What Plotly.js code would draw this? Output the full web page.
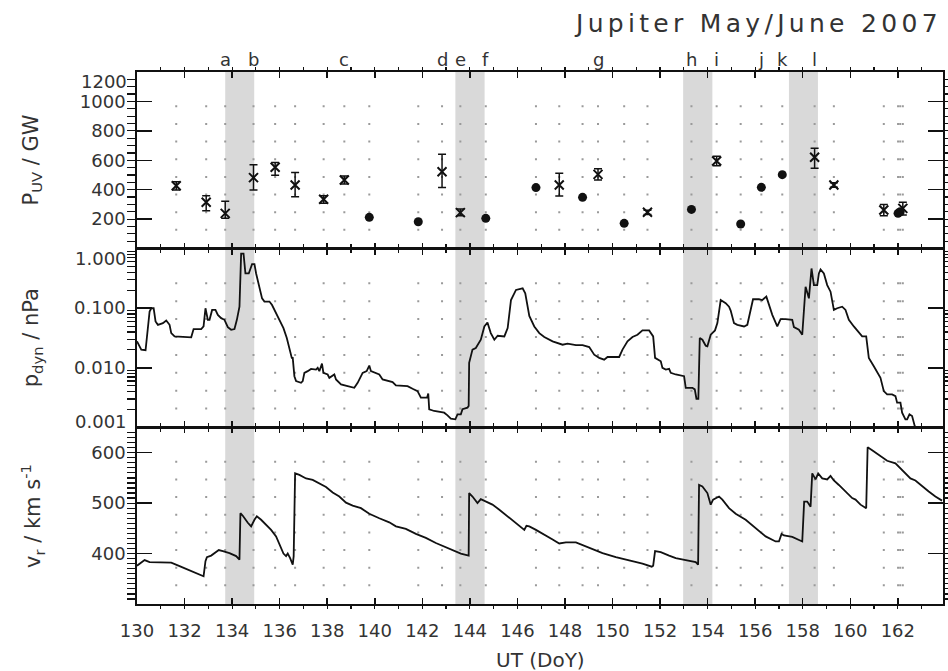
<!DOCTYPE html>
<html><head><meta charset="utf-8">
<script src="https://cdn.plot.ly/plotly-3.0.1.min.js"></script>
<style>
html,body{margin:0;padding:0;background:#fff;}
#chart{width:948px;height:671px;}
text[data-unformatted^="Jupiter"]{letter-spacing:4.3px;}
</style></head><body><div id="chart"></div>
<script>
// ---- P_UV (top panel) ----
const xTimes = [131.65,132.91,133.71,134.90,135.81,136.65,137.85,138.72,142.83,143.60,147.76,149.39,151.47,154.38,158.50,159.31,161.41,162.21];
const xPower = [427,314,239,482,552,432,335,466,522,244,432,504,246,595,620,432,262,273];
const xErrPlus = [27,45,82,88,32,84,24,27,118,25,79,39,15,33,61,15,38,41];
const xErrMinus = [29,57,34,84,54,80,28,27,108,21,75,38,15,32,75,15,39,45];
const dotTimes = [139.77,141.83,144.67,146.78,148.74,150.49,153.32,155.39,156.26,157.14,162.01,162.10];
const dotPower = [212,182,205,414,348,171,266,167,416,502,239,250];

// ---- event labels and shaded intervals ----
const eventLabels = ['a','b','c','d','e','f','g','h','i','j','k','l'];
const eventTimes = [133.71,134.90,138.72,142.83,143.60,144.67,149.39,153.32,154.38,156.26,157.14,158.50];
const shadeStart = [133.71,143.39,152.97,157.42];
const shadeEnd = [134.93,144.62,154.20,158.64];

// ---- dynamic pressure (middle panel) ----
const pdynDay = [130.00,130.18,130.36,130.53,130.60,130.70,130.78,130.88,131.09,131.23,
131.37,131.44,131.58,131.93,132.28,132.38,132.70,132.80,132.88,132.98,
133.05,133.16,133.30,133.40,133.54,133.68,133.82,133.96,134.10,134.20,
134.31,134.38,134.48,134.56,134.70,134.84,134.94,135.01,135.15,135.26,
135.36,135.57,135.68,135.85,135.99,136.16,136.30,136.41,136.51,136.55,
136.62,136.69,136.90,136.97,137.04,137.18,137.32,137.53,137.60,137.67,
137.78,137.84,138.02,138.09,138.30,138.37,138.58,138.86,139.14,139.28,
139.49,139.66,139.77,139.84,140.02,140.19,140.33,140.54,140.75,140.89,
141.17,141.38,141.59,141.80,141.94,142.20,142.25,142.29,142.50,142.78,
142.92,143.06,143.20,143.39,143.48,143.62,143.69,143.90,143.95,143.97,
144.11,144.25,144.46,144.61,144.74,144.88,145.03,145.17,145.45,145.59,
145.73,145.94,146.22,146.33,146.43,
146.50,146.71,146.92,147.13,147.48,147.90,148.11,148.46,148.74,149.02,
149.23,149.44,149.65,149.79,150.28,150.42,150.63,150.84,151.05,151.26,
151.54,151.71,151.79,152.03,152.10,152.24,152.38,152.45,152.66,153.01,
153.08,153.36,153.46,153.53,153.61,153.67,153.78,153.92,153.99,154.13,
154.31,154.41,154.55,154.76,154.90,154.97,155.11,155.25,155.53,155.67,
155.81,155.91,156.16,156.30,156.47,156.58,156.72,156.93,157.07,157.28,
157.56,157.63,157.84,157.98,158.05,158.12,158.26,158.37,158.47,158.61,
158.68,158.75,158.89,159.03,159.17,159.31,159.45,159.66,159.80,159.94,
160.15,160.36,160.50,160.67,160.78,160.99,161.13,161.27,161.41,161.55,
161.76,161.90,161.97,162.11,162.18,162.32,162.39,162.49,162.60,162.71,
162.81];
const pdynVal = [0.0278,0.0202,0.0197,0.0879,0.0998,0.0998,0.0598,0.0526,0.0561,0.0622,
0.0526,0.0382,0.0336,0.0328,0.0324,0.0446,0.0446,0.0494,0.0998,0.0638,
0.0638,0.0935,0.0935,0.0773,0.0680,0.0638,0.0481,0.0434,0.0446,0.0638,
0.106,0.824,0.824,0.382,0.382,0.547,0.547,0.382,0.229,0.146,
0.129,0.129,0.113,0.0824,0.0638,0.0463,0.0316,0.0202,0.0147,0.0147,
0.00724,0.00598,0.00561,0.00598,0.00824,0.00879,0.00960,0.00935,0.00998,0.00879,
0.0118,0.00824,0.00773,0.00680,0.00773,0.00638,0.00526,0.00494,0.00463,0.00561,
0.00824,0.00879,0.0109,0.00879,0.00824,0.00773,0.00638,0.00598,0.00576,0.00507,
0.00507,0.00494,0.00446,0.00407,0.00316,0.00316,0.00372,0.00202,0.00189,0.00182,
0.00177,0.00160,0.00141,0.00137,0.00166,0.00166,0.00202,0.00215,0.00229,0.0121,
0.0202,0.0215,0.0296,0.0494,0.0575,0.0382,0.0296,0.0345,0.0336,0.0463,
0.137,0.202,0.215,0.177,0.0998,
0.0743,0.0494,0.0382,0.0328,0.0278,0.0244,0.0254,0.0241,0.0241,0.0223,
0.0166,0.0147,0.0137,0.0152,0.0152,0.0202,0.0278,0.0328,0.0359,0.0424,
0.0424,0.0336,0.0147,0.0129,0.00998,0.00935,0.00960,0.00824,0.00773,0.00724,
0.00463,0.00463,0.00435,0.00303,0.00303,0.0316,0.0296,0.0235,0.0229,0.0359,
0.0424,0.0561,0.137,0.121,0.106,0.0912,0.0561,0.0526,0.0494,0.0526,
0.0935,0.141,0.141,0.137,0.156,0.113,0.0773,0.0494,0.0655,0.0655,
0.0638,0.0481,0.0434,0.0359,0.0935,0.229,0.146,0.463,0.244,0.244,
0.382,0.446,0.382,0.244,0.189,0.0935,0.0998,0.106,0.0935,0.0638,
0.0494,0.0393,0.0336,0.0336,0.0147,0.0106,0.00846,0.00680,0.00407,0.00359,
0.00359,0.00336,0.00261,0.00261,0.00177,0.00137,0.00137,0.00166,0.00156,0.00106,
0.00088];

// ---- radial solar wind velocity (bottom panel) ----
const vrDay = [130.00,130.32,130.53,130.95,131.44,131.79,132.21,132.49,132.80,132.88,
132.94,133.12,133.33,133.44,133.61,133.89,134.17,134.31,134.35,134.45,
134.66,134.80,134.94,135.04,135.22,135.43,135.64,135.85,135.99,136.16,
136.27,136.34,136.44,136.55,136.59,136.65,136.83,137.11,137.39,137.67,
137.95,138.23,138.51,138.79,139.07,139.42,139.77,140.19,140.61,140.89,
141.31,141.73,142.15,142.57,142.99,143.41,143.62,143.95,143.97,144.11,
144.32,144.46,144.67,144.95,145.24,145.51,145.80,146.15,146.29,146.38,
146.50,146.78,147.13,147.48,147.76,148.04,148.46,148.74,149.16,149.58,
150.14,150.70,151.26,151.65,151.71,151.79,152.03,152.38,152.66,153.08,
153.50,153.60,153.64,153.78,153.99,154.13,154.23,154.48,154.62,154.90,
155.18,155.60,156.02,156.44,156.86,157.00,157.11,157.21,157.56,157.84,
157.98,158.06,158.19,158.33,158.40,158.54,158.65,158.82,159.03,159.17,
159.31,159.52,159.80,160.08,160.22,160.43,160.67,160.73,160.92,161.20,
161.55,161.90,162.11,162.25,162.53,162.74,163.02,163.30,163.58,163.86];
const vrVal = [376,387,383,382,382,375,367,362,355,385,
393,396,403,407,405,401,395,388,480,475,
461,454,467,474,467,457,447,434,418,400,
395,400,391,378,395,559,556,549,546,539,
532,521,513,501,495,490,479,470,462,454,
449,439,431,421,413,405,400,396,520,513,
500,508,503,497,487,477,467,454,447,455,
454,447,438,428,420,422,422,417,409,401,
393,387,380,374,376,405,403,396,391,387,
383,378,536,533,520,497,507,513,507,490,
479,467,451,434,424,424,439,436,433,428,
424,503,503,493,559,547,559,549,547,554,
545,536,523,510,507,497,490,611,605,595,
584,579,569,563,549,545,533,523,513,505];

// ---- axis ticks ----
const dayRange = [130, 163.9];
const puvTicks = [200,400,600,800,1000];          // 1200 sits on the frame: drawn as an edge label
const pdynTicks = [0.01,0.1];                      // 0.001 / 1.000 sit on the frame: edge labels
const pdynTickText = ['0.010','0.100'];
const pdynMinor = [0.002,0.003,0.004,0.005,0.006,0.007,0.008,0.009,0.02,0.03,0.04,0.05,0.06,0.07,0.08,0.09,0.2,0.3,0.4,0.5,0.6,0.7,0.8,0.9];
const vrTicks = [400,500,600];
// edge tick labels: [text, axis, value, vertical shift in px]
const edgeLabels = [['1200','y3',1200,-9], ['1.000','y2',0,-10], ['0.001','y2',-3,6]];

const INK = '#111';
const TXT = '#333';
const FONT = 'DejaVu Sans, sans-serif';

const traces = [
  {x: vrDay, y: vrVal, xaxis: 'x', yaxis: 'y', mode: 'lines', line: {color: INK, width: 1.8}, hoverinfo: 'skip'},
  {x: pdynDay, y: pdynVal, xaxis: 'x2', yaxis: 'y2', mode: 'lines', line: {color: INK, width: 1.8}, hoverinfo: 'skip'},
  {x: xTimes, y: xPower, xaxis: 'x3', yaxis: 'y3', mode: 'markers',
   marker: {symbol: 'x-thin', size: 9, color: INK, line: {color: INK, width: 2}},
   error_y: {type: 'data', symmetric: false, array: xErrPlus, arrayminus: xErrMinus, color: INK, thickness: 1.5, width: 4}},
  {x: dotTimes, y: dotPower, xaxis: 'x3', yaxis: 'y3', mode: 'markers',
   marker: {symbol: 'circle', size: 9, color: INK}}
];

const xCommon = {range: dayRange, showline: true, linecolor: INK, linewidth: 1.8, mirror: 'ticks',
  ticks: 'inside', ticklen: 6, tickwidth: 1.5, tickcolor: INK, tick0: 130, dtick: 2,
  minor: {dtick: 1, tick0: 130, ticklen: 3, tickwidth: 1.2, tickcolor: INK},
  showgrid: false, zeroline: false, tickfont: {family: FONT, size: 18, color: TXT}, ticklabelstandoff: 10};
const yCommon = {showline: true, linecolor: INK, linewidth: 1.8, mirror: 'ticks', ticks: 'inside',
  ticklen: 15, tickwidth: 1.5, tickcolor: INK, showgrid: false, zeroline: false,
  tickfont: {family: FONT, size: 18, color: TXT}, ticklabelstandoff: 6};

const dBot = [0, 0.3318], dMid = [0.3318, 0.6682], dTop = [0.6682, 1];

const shapes = [];
for (let i = 0; i < shadeStart.length; i++) {
  shapes.push({type: 'rect', xref: 'x', yref: 'paper', x0: shadeStart[i], x1: shadeEnd[i], y0: 0, y1: 1,
    fillcolor: '#d9d9d9', line: {width: 0}, layer: 'below'});
}
const allObs = xTimes.concat(dotTimes);
const panels = [['y domain', '2px,15.65px'], ['y2 domain', '2px,15.9px'], ['y3 domain', '2px,15.65px']];
panels.forEach(p => {
  allObs.forEach(t => {
    shapes.push({type: 'line', xref: 'x', yref: p[0], x0: t, x1: t, y0: 0.1, y1: 0.9,
      line: {color: '#9a9a9a', width: 2, dash: p[1]}, layer: 'below'});
  });
});

const annotations = [
  {text: 'Jupiter May/June 2007', xref: 'paper', yref: 'paper', x: 0.770, y: 1.0921, xanchor: 'center', yanchor: 'middle',
   showarrow: false, font: {family: FONT, size: 25, color: TXT}},
  {text: 'UT (DoY)', xref: 'paper', yref: 'paper', x: 0.5, y: -0.105, xanchor: 'center', yanchor: 'middle',
   showarrow: false, font: {family: FONT, size: 20, color: TXT}},
  {text: 'P<sub>UV</sub> / GW', xref: 'paper', yref: 'paper', x: -0.130, y: (dTop[0]+dTop[1])/2, textangle: -90,
   xanchor: 'center', yanchor: 'middle', showarrow: false, font: {family: FONT, size: 21, color: TXT}},
  {text: 'p<sub>dyn</sub> / nPa', xref: 'paper', yref: 'paper', x: -0.130, y: (dMid[0]+dMid[1])/2, textangle: -90,
   xanchor: 'center', yanchor: 'middle', showarrow: false, font: {family: FONT, size: 21, color: TXT}},
  {text: 'v<sub>r</sub> / km s<sup>-1</sup>', xref: 'paper', yref: 'paper', x: -0.130, y: (dBot[0]+dBot[1])/2, textangle: -90,
   xanchor: 'center', yanchor: 'middle', showarrow: false, font: {family: FONT, size: 21, color: TXT}}
];
edgeLabels.forEach(e => {
  annotations.push({text: e[0], xref: 'paper', yref: e[1], x: 0, y: e[2], xanchor: 'right', yanchor: 'middle',
    xshift: -8, yshift: e[3], showarrow: false, font: {family: FONT, size: 18, color: TXT}});
});
eventLabels.forEach((lab, i) => {
  annotations.push({text: lab, xref: 'x3', yref: 'paper', x: eventTimes[i], y: 1, xanchor: 'center', yanchor: 'bottom',
    showarrow: false, font: {family: FONT, size: 18, color: TXT}});
});

const layout = {
  width: 948, height: 671,
  margin: {l: 137, r: 5, t: 72, b: 67},
  paper_bgcolor: '#fff', plot_bgcolor: 'rgba(0,0,0,0)',
  showlegend: false,
  xaxis: Object.assign({}, xCommon, {anchor: 'y', domain: [0, 1], showticklabels: true}),
  xaxis2: Object.assign({}, xCommon, {anchor: 'y2', domain: [0, 1], matches: 'x', showticklabels: false}),
  xaxis3: Object.assign({}, xCommon, {anchor: 'y3', domain: [0, 1], matches: 'x', showticklabels: false}),
  yaxis: Object.assign({}, yCommon, {domain: dBot, range: [300, 650], tickmode: 'array', tickvals: vrTicks,
    minor: {tickmode: 'linear', tick0: 300, dtick: 10, ticklen: 8, tickwidth: 1.2, tickcolor: INK}}),
  yaxis2: Object.assign({}, yCommon, {domain: dMid, type: 'log', range: [-3, 0], tickmode: 'array',
    tickvals: pdynTicks, ticktext: pdynTickText,
    minor: {tickmode: 'array', tickvals: pdynMinor, ticklen: 8, tickwidth: 1.2, tickcolor: INK}}),
  yaxis3: Object.assign({}, yCommon, {domain: dTop, range: [0, 1200], tickmode: 'array', tickvals: puvTicks,
    minor: {tickmode: 'linear', tick0: 0, dtick: 50, ticklen: 8, tickwidth: 1.2, tickcolor: INK}}),
  shapes: shapes,
  annotations: annotations
};

Plotly.newPlot('chart', traces, layout, {displayModeBar: false, staticPlot: true});
</script></body></html>
